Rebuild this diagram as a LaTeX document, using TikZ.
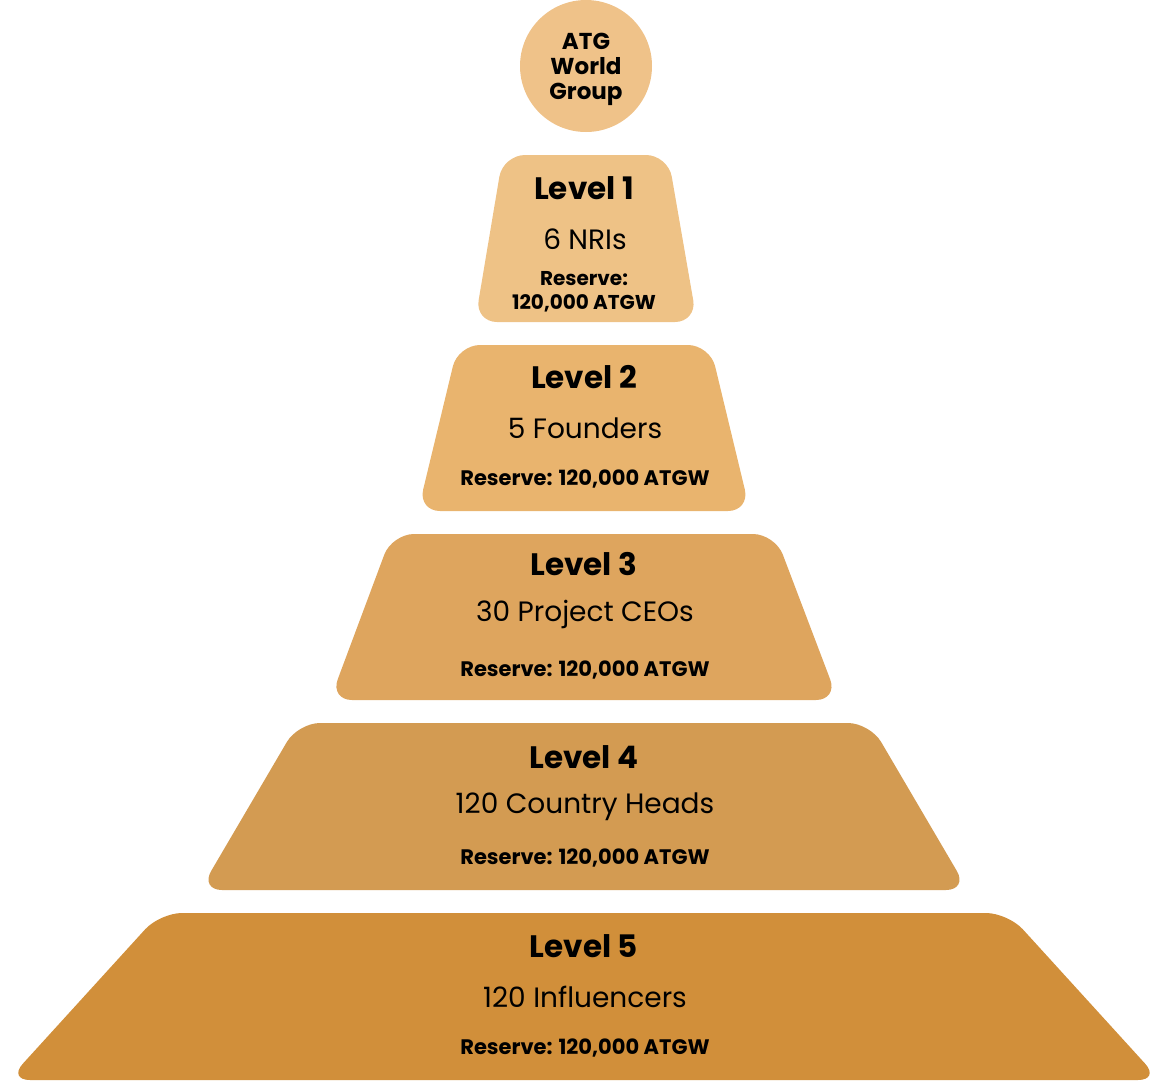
\documentclass[tikz,border=0pt]{standalone}
\usepackage{fontspec}
\setmainfont{Poppins}
\begin{document}
\begin{tikzpicture}[x=1pt,y=-1pt,
  lvl/.style={font=\bfseries\fontsize{31}{31}\selectfont,inner sep=0pt},
  who/.style={font=\fontsize{28}{28}\selectfont,inner sep=0pt},
  res/.style={font=\bfseries\fontsize{21}{21}\selectfont,inner sep=0pt},
  tier/.style={rounded corners=22pt}]
\definecolor{c0}{HTML}{EFC289}
\definecolor{c1}{HTML}{EEC286}
\definecolor{c2}{HTML}{E9B46E}
\definecolor{c3}{HTML}{DEA55E}
\definecolor{c4}{HTML}{D39B52}
\definecolor{c5}{HTML}{D18F3A}
\useasboundingbox (0,0) rectangle (1163,1080);
\fill[c0] (586,66) circle (66);
\node[font=\bfseries\fontsize{23}{25}\selectfont,align=center,inner sep=0pt] (atg) at (586,69) {ATG\\World\\Group};
\fill[c1,tier] (503,155) -- (668,155) -- (697,322) -- (475,322) -- cycle;
\fill[c2,tier] (458,345) -- (710,345) -- (750,511) -- (418,511) -- cycle;
\fill[c3,tier] (392,534) -- (775,534) -- (838,700) -- (330,700) -- cycle;
\fill[c4,tier] (298,723) -- (870,723) -- (968,890) -- (200,890) -- cycle;
\fill[c5,tier] (160,913) -- (1008,913) -- (1160,1080) -- (8,1080) -- cycle;
\node[lvl] (l1) at (584,188) {Level 1};
\node[who] (w1) at (585,239) {6 NRIs};
\node[res,align=center,font=\bfseries\fontsize{20}{24}\selectfont] (r1) at (584,292) {Reserve:\\120,000 ATGW};
\node[lvl] (l2) at (584,377) {Level 2};
\node[who] (w2) at (585,428) {5 Founders};
\node[res] (r2) at (585,479) {Reserve: 120,000 ATGW};
\node[lvl] (l3) at (584,564) {Level 3};
\node[who] (w3) at (585,614) {30 Project CEOs};
\node[res] (r3) at (585,670) {Reserve: 120,000 ATGW};
\node[lvl] (l4) at (584,757) {Level 4};
\node[who] (w4) at (585,807) {120 Country Heads};
\node[res] (r4) at (585,858) {Reserve: 120,000 ATGW};
\node[lvl] (l5) at (584,946) {Level 5};
\node[who] (w5) at (585,997) {120 Influencers};
\node[res] (r5) at (585,1048) {Reserve: 120,000 ATGW};
\end{tikzpicture}
\end{document}
